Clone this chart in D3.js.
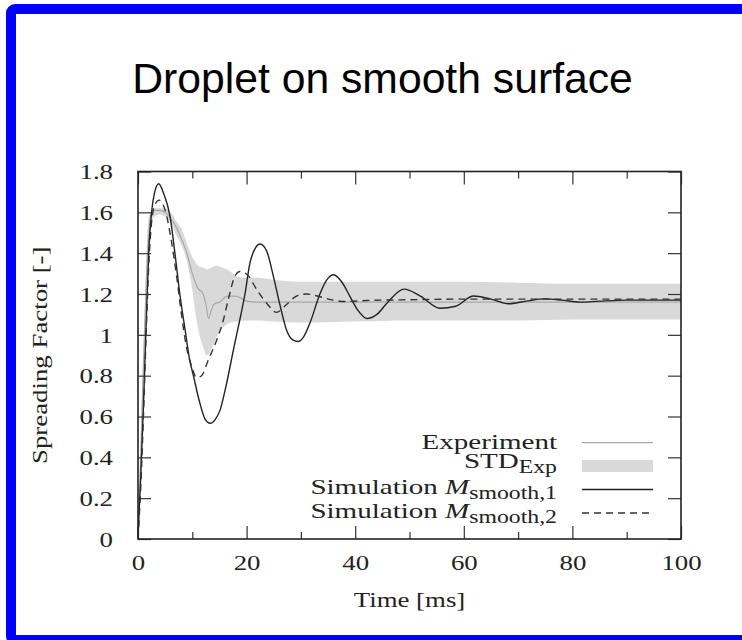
<!DOCTYPE html>
<html>
<head>
<meta charset="utf-8">
<script src="https://cdn.jsdelivr.net/npm/d3@7"></script>
<style>
  html, body { margin: 0; padding: 0; background: #fff; }
  svg { display: block; }
</style>
</head>
<body>
<svg id="chart" width="742" height="640"></svg>
<script>
// ---- data ----
const expT = [0, 0.5, 1, 1.5, 2, 2.5, 3, 4, 5, 6, 7, 8, 9, 10, 11, 12, 12.5, 13, 13.5, 14, 15, 16.5, 18, 19, 20, 22, 25, 30, 40, 50, 60, 70, 80, 90, 100];
const expV = [0, 0.4, 0.85, 1.25, 1.5, 1.6, 1.61, 1.61, 1.6, 1.57, 1.53, 1.47, 1.4, 1.3, 1.23, 1.2, 1.15, 1.08, 1.12, 1.15, 1.16, 1.19, 1.19, 1.18, 1.165, 1.16, 1.16, 1.16, 1.16, 1.16, 1.16, 1.16, 1.16, 1.16, 1.16];

const stdT  = [0, 1, 2, 3, 4, 5, 6, 7, 8, 9, 10, 10.5, 11, 12, 12.7, 13.5, 14.5, 15.5, 17, 18, 20, 22, 25, 30, 40, 50, 60, 70, 80, 90, 100];
const stdHi = [0.05, 0.9, 1.58, 1.62, 1.62, 1.62, 1.6, 1.56, 1.52, 1.45, 1.38, 1.36, 1.34, 1.33, 1.32, 1.33, 1.34, 1.33, 1.31, 1.29, 1.28, 1.28, 1.27, 1.26, 1.26, 1.26, 1.26, 1.255, 1.25, 1.25, 1.25];
const stdLo = [0, 0.8, 1.45, 1.58, 1.59, 1.58, 1.55, 1.49, 1.44, 1.36, 1.22, 1.12, 1.04, 0.94, 0.9, 0.93, 0.99, 1.03, 1.06, 1.065, 1.07, 1.07, 1.065, 1.06, 1.065, 1.07, 1.07, 1.07, 1.075, 1.075, 1.075];

const sim1T = [0, 0.5, 1, 1.5, 2, 2.5, 3, 3.8, 4.7, 5.9, 6.8, 7.7, 8.7, 9.5, 10.2, 11.4, 12.3, 13.3, 14.2, 15.1, 16.3, 17.6, 18.8, 19.7, 20.6, 21.5, 22.5, 23.7, 24.9, 26.2, 27.4, 28.5, 29.5, 30.5, 31.7, 33.5, 34.8, 36, 37.5, 39, 40.5, 42.2, 44, 46, 49, 52, 55.6, 58.5, 61.8, 65, 68.2, 71.5, 75, 78, 81.4, 85, 90, 95, 100];
const sim1V = [0.02, 0.3, 0.65, 1.05, 1.42, 1.6, 1.69, 1.74, 1.695, 1.58, 1.4, 1.2, 1.02, 0.88, 0.8, 0.665, 0.59, 0.567, 0.585, 0.63, 0.76, 0.93, 1.08, 1.2, 1.35, 1.42, 1.445, 1.41, 1.29, 1.14, 1.02, 0.975, 0.967, 0.99, 1.06, 1.2, 1.27, 1.294, 1.26, 1.19, 1.12, 1.08, 1.1, 1.16, 1.224, 1.19, 1.13, 1.14, 1.19, 1.175, 1.152, 1.165, 1.176, 1.17, 1.16, 1.165, 1.17, 1.17, 1.17];

const sim2T = [0, 0.5, 1, 1.5, 2, 2.5, 3, 3.9, 5.3, 6.2, 7.1, 8.0, 9.0, 9.9, 10.8, 11.7, 12.95, 14.5, 15.7, 16.6, 17.9, 18.8, 20.3, 21.9, 23.7, 25.5, 27.4, 29.2, 31.1, 33, 36, 38, 42, 50, 60, 70, 80, 90, 100];
const sim2V = [0, 0.25, 0.6, 1.0, 1.35, 1.55, 1.63, 1.66, 1.58, 1.45, 1.29, 1.1, 0.93, 0.845, 0.79, 0.8, 0.877, 0.975, 1.07, 1.17, 1.29, 1.31, 1.29, 1.22, 1.155, 1.11, 1.15, 1.19, 1.2, 1.19, 1.17, 1.163, 1.168, 1.172, 1.175, 1.175, 1.175, 1.175, 1.175];

const xMajor = [0, 20, 40, 60, 80, 100];
const xMinor = [10, 30, 50, 70, 90];
const yTicks = [0, 0.2, 0.4, 0.6, 0.8, 1, 1.2, 1.4, 1.6, 1.8];
const yTickLabels = ["0", "0.2", "0.4", "0.6", "0.8", "1", "1.2", "1.4", "1.6", "1.8"];

const legendLabels = [
  { text: "Experiment", italic: "", sub: "" },
  { text: "STD", italic: "", sub: "Exp" },
  { text: "Simulation ", italic: "M", sub: "smooth,1" },
  { text: "Simulation ", italic: "M", sub: "smooth,2" }
];

// ---- layout ----
const svg = d3.select('#chart');
const serif = '"Liberation Serif", "Times New Roman", serif';
const stretch = 1.22;     // widen Times toward Computer Modern widths
const legStretch = 1.32;  // letters need a bit more than digits
const fs = 22;

const x = d3.scaleLinear().domain([0, 100]).range([138, 681]);
const y = d3.scaleLinear().domain([0, 1.8]).range([539, 171.5]);

// blue slide border
svg.append('rect')
    .attr('x', 11).attr('y', 9)
    .attr('width', 800).attr('height', 631)
    .attr('rx', 4)
    .attr('fill', 'none')
    .attr('stroke', '#0000ff')
    .attr('stroke-width', 10);

svg.append('text')
    .attr('x', 382.5).attr('y', 93)
    .attr('text-anchor', 'middle')
    .style('font-family', '"Liberation Sans", Arial, sans-serif')
    .style('font-size', '42.7px')
    .attr('fill', '#000')
    .text('Droplet on smooth surface');

const zip = (ts, vs) => ts.map((t, i) => ({ t, v: vs[i] }));

// std band
const band = stdT.map((t, i) => ({ t, lo: stdLo[i], hi: stdHi[i] }));
svg.append('path')
    .datum(band)
    .attr('fill', '#d9d9d9')
    .attr('d', d3.area()
        .x(d => x(d.t))
        .y0(d => y(d.lo))
        .y1(d => y(d.hi))
        .curve(d3.curveMonotoneX));

const line = d3.line()
    .x(d => x(d.t))
    .y(d => y(d.v))
    .curve(d3.curveMonotoneX);

svg.append('path')
    .datum(zip(expT, expV))
    .attr('fill', 'none')
    .attr('stroke', '#a8a8a8')
    .attr('stroke-width', 1.2)
    .attr('d', line);

svg.append('path')
    .datum(zip(sim1T, sim1V))
    .attr('fill', 'none')
    .attr('stroke', '#222')
    .attr('stroke-width', 1.4)
    .attr('d', line);

svg.append('path')
    .datum(zip(sim2T, sim2V))
    .attr('fill', 'none')
    .attr('stroke', '#333')
    .attr('stroke-width', 1.4)
    .attr('stroke-dasharray', '7,5')
    .attr('d', line);

// ---- axes (ticks inside the frame) ----
function styleAxis(g) {
    g.select('.domain').remove();
    g.selectAll('.tick line').attr('stroke', '#333').attr('stroke-width', 1.2);
    g.selectAll('text')
        .attr('fill', '#222')
        .style('font-family', serif)
        .style('font-size', fs + 'px');
}

svg.append('g')
    .attr('transform', `translate(0,${y(0)})`)
    .call(d3.axisBottom(x).tickValues(xMajor).tickSize(-13).tickPadding(15).tickFormat(d3.format('d')))
    .call(styleAxis)
    .call(g => g.selectAll('text').attr('transform', `scale(${stretch},1)`));

svg.append('g')
    .attr('transform', `translate(0,${y(0)})`)
    .call(d3.axisBottom(x).tickValues(xMinor).tickSize(-7).tickFormat(''))
    .call(styleAxis);

svg.append('g')
    .attr('transform', `translate(0,${y(1.8)})`)
    .call(d3.axisTop(x).tickValues(xMajor).tickSize(-13).tickFormat(''))
    .call(styleAxis);

svg.append('g')
    .attr('transform', `translate(0,${y(1.8)})`)
    .call(d3.axisTop(x).tickValues(xMinor).tickSize(-7).tickFormat(''))
    .call(styleAxis);

svg.append('g')
    .attr('transform', `translate(${x(0)},0)`)
    .call(d3.axisLeft(y).tickValues(yTicks).tickSize(-13)
        .tickFormat((d, i) => yTickLabels[i]))
    .call(styleAxis)
    .call(g => g.selectAll('text')
        .attr('x', -25 / stretch)
        .attr('dy', '0.33em')
        .attr('transform', `scale(${stretch},1)`));

svg.append('g')
    .attr('transform', `translate(${x(100)},0)`)
    .call(d3.axisRight(y).tickValues(yTicks).tickSize(-13).tickFormat(''))
    .call(styleAxis);

// frame
svg.append('rect')
    .attr('x', x(0)).attr('y', y(1.8))
    .attr('width', x(100) - x(0)).attr('height', y(0) - y(1.8))
    .attr('fill', 'none')
    .attr('stroke', '#222')
    .attr('stroke-width', 1.6);

// axis titles
svg.append('g')
    .attr('transform', `translate(${(x(0) + x(100)) / 2},607) scale(${stretch},1)`)
    .append('text')
    .attr('text-anchor', 'middle')
    .style('font-family', serif).style('font-size', fs + 'px')
    .attr('fill', '#222')
    .text('Time [ms]');

svg.append('g')
    .attr('transform', `translate(47,${(y(0) + y(1.8)) / 2}) rotate(-90) scale(${stretch},1)`)
    .append('text')
    .attr('text-anchor', 'middle')
    .style('font-family', serif).style('font-size', fs + 'px')
    .attr('fill', '#222')
    .text('Spreading Factor [-]');

// ---- legend ----
const legRowY = [442.7, 466, 489.5, 513];
const legBase = [6.5, 1.5, 4.5, 5];
const legTextX = 557, legX1 = 582, legX2 = 653;

legendLabels.forEach((d, i) => {
    const t = svg.append('g')
        .attr('transform', `translate(${legTextX},${legRowY[i] + legBase[i]}) scale(${legStretch},1)`)
        .append('text')
        .attr('text-anchor', 'end')
        .style('font-family', serif).style('font-size', fs + 'px')
        .attr('fill', '#222');
    t.append('tspan').text(d.text);
    if (d.italic) t.append('tspan').style('font-style', 'italic').text(d.italic);
    if (d.sub) t.append('tspan').attr('dy', 5).style('font-size', '18px').text(d.sub);
});

svg.append('line')
    .attr('x1', legX1).attr('x2', legX2)
    .attr('y1', legRowY[0]).attr('y2', legRowY[0])
    .attr('stroke', '#a8a8a8').attr('stroke-width', 1.2);
svg.append('rect')
    .attr('x', legX1).attr('width', legX2 - legX1)
    .attr('y', legRowY[1] - 6).attr('height', 12)
    .attr('fill', '#d9d9d9');
svg.append('line')
    .attr('x1', legX1).attr('x2', legX2)
    .attr('y1', legRowY[2]).attr('y2', legRowY[2])
    .attr('stroke', '#222').attr('stroke-width', 1.4);
svg.append('line')
    .attr('x1', legX1).attr('x2', legX2)
    .attr('y1', legRowY[3]).attr('y2', legRowY[3])
    .attr('stroke', '#333').attr('stroke-width', 1.4)
    .attr('stroke-dasharray', '7,5');
</script>
</body>
</html>
